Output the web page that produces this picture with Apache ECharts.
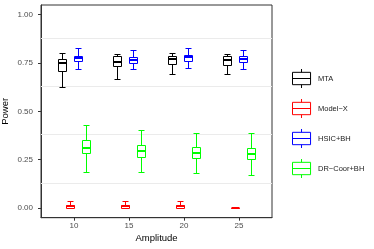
<!DOCTYPE html>
<html>
<head>
<meta charset="utf-8">
<script src="https://cdn.jsdelivr.net/npm/echarts@6/dist/echarts.min.js"></script>
<style>html,body{margin:0;padding:0;background:#fff;}#c{width:374px;height:249px;}</style>
</head>
<body>
<div id="c"></div>
<script>
// ---- data ----
const categories = ['10', '15', '20', '25'];
const groups = ['MTA', 'Model\u2212X', 'HSIC+BH', 'DR\u2212Coor+BH'];
const colors = ['#000000', '#ff0000', '#0000ff', '#00ff00'];
// each row: [min, q1, median, q3, max] per amplitude
const mta    = [[0.625,0.707,0.748,0.771,0.800],[0.665,0.735,0.757,0.788,0.797],[0.694,0.745,0.771,0.785,0.800],[0.692,0.742,0.768,0.785,0.797]];
const modelX = [[0.000,0.000,0.008,0.017,0.034],[0.000,0.000,0.008,0.017,0.034],[0.000,0.000,0.008,0.017,0.034],[0.000,0.000,0.000,0.000,0.000]];
const hsic   = [[0.721,0.758,0.775,0.788,0.827],[0.719,0.751,0.768,0.783,0.819],[0.723,0.762,0.779,0.792,0.828],[0.720,0.754,0.771,0.788,0.818]];
const drCoor = [[0.185,0.284,0.310,0.350,0.430],[0.188,0.264,0.296,0.325,0.403],[0.181,0.257,0.286,0.314,0.387],[0.171,0.252,0.281,0.312,0.387]];
const yTicks = [0, 0.25, 0.5, 0.75, 1];
const minorGrid = [0.125, 0.375, 0.625, 0.875];
const seriesData = [mta, modelX, hsic, drCoor];

const FONT = 'Liberation Sans, Arial, sans-serif';
const DODGE = 0.15, BOXW = 0.15, CAPW = 0.125;

function px(v) { return Math.round(v) + 0.5; }

function makeRender(g, color) {
  return function (params, api) {
    const x = api.value(0) + (g - 1.5) * DODGE;
    const c = (v) => api.coord([x, v]);
    const pMin = c(api.value(1)), pQ1 = c(api.value(2)), pMed = c(api.value(3)), pQ3 = c(api.value(4)), pMax = c(api.value(5));
    const hb = Math.round(api.size([BOXW, 0])[0] / 2);
    const hc = Math.round(api.size([CAPW, 0])[0] / 2);
    const cx = px(pMed[0]);
    const ls = { stroke: color, lineWidth: 1, fill: null };
    const yMin = px(pMin[1]), yMax = px(pMax[1]), yQ1 = px(pQ1[1]), yQ3 = px(pQ3[1]);
    const yMed = Math.round(pMed[1]);
    return {
      type: 'group',
      children: [
        { type: 'line', shape: { x1: cx, y1: yMax, x2: cx, y2: yQ3 }, style: ls },
        { type: 'line', shape: { x1: cx, y1: yQ1, x2: cx, y2: yMin }, style: ls },
        { type: 'line', shape: { x1: cx - hc, y1: yMax, x2: cx + hc, y2: yMax }, style: ls },
        { type: 'line', shape: { x1: cx - hc, y1: yMin, x2: cx + hc, y2: yMin }, style: ls },
        { type: 'rect', shape: { x: cx - hb, y: yQ3, width: 2 * hb, height: yQ1 - yQ3 }, style: { fill: '#fff', stroke: color, lineWidth: 1 } },
        { type: 'line', shape: { x1: cx - hb, y1: yMed, x2: cx + hb, y2: yMed }, style: { stroke: color, lineWidth: 2 } }
      ]
    };
  };
}

const legendIcon = 'path://M10,0L10,3.5M0.5,3.5L19.5,3.5L19.5,16.5L0.5,16.5ZM0.5,10L19.5,10M10,16.5L10,20';

const series = groups.map((name, g) => {
  const s = {
    name: name,
    type: 'custom',
    renderItem: makeRender(g, colors[g]),
    itemStyle: { color: colors[g] },
    emphasis: { disabled: true },
    encode: { x: 0, y: [1, 2, 3, 4, 5] },
    data: categories.map((cat, i) => [i + 1].concat(seriesData[g][i])),
    z: 3
  };
  if (g === 0) {
    s.markLine = {
      silent: true,
      symbol: ['none', 'none'],
      label: { show: false },
      lineStyle: { color: '#ebebeb', type: 'solid', width: 1 },
      emphasis: { disabled: true },
      data: minorGrid.map(v => ({ yAxis: v })),
      z: 1
    };
  }
  return s;
});

const chart = echarts.init(document.getElementById('c'), null, { renderer: 'canvas' });
chart.setOption({
  animation: false,
  backgroundColor: '#ffffff',
  textStyle: { fontFamily: FONT },
  tooltip: { show: false },
  grid: { left: 41, right: 102, top: 5, bottom: 31.3, containLabel: false, outerBoundsMode: 'none', show: true, borderColor: '#333333', borderWidth: 1, backgroundColor: '#ffffff' },
  legend: {
    orient: 'vertical',
    left: 290,
    top: 66.5,
    padding: 0,
    itemWidth: 19,
    itemHeight: 19,
    itemGap: 6,
    selectedMode: false,
    textStyle: { fontSize: 7.5, color: '#1a1a1a', fontFamily: FONT, padding: [0, 0, 0, 2] },
    data: groups.map((n, g) => ({ name: n, icon: legendIcon, itemStyle: { color: 'none', borderColor: colors[g], borderWidth: 1 } }))
  },
  xAxis: {
    type: 'value',
    min: 0.4,
    max: 4.6,
    name: 'Amplitude',
    nameLocation: 'middle',
    nameGap: 15.5,
    nameMoveOverlap: false,
    nameTextStyle: { fontSize: 9.5, color: '#000', fontFamily: FONT },
    axisLine: { show: true, onZero: false, lineStyle: { color: '#333333', width: 1 } },
    axisTick: { show: true, length: 3, customValues: [1, 2, 3, 4], lineStyle: { color: '#333333' } },
    axisLabel: { customValues: [1, 2, 3, 4], formatter: v => categories[Math.round(v) - 1], fontSize: 8, color: '#4d4d4d', margin: 4.5, fontFamily: FONT },
    splitLine: { show: false }
  },
  yAxis: {
    type: 'value',
    min: -0.05,
    max: 1.05,
    name: 'Power',
    nameLocation: 'middle',
    nameGap: 31,
    nameMoveOverlap: false,
    nameTextStyle: { fontSize: 9.5, color: '#000', fontFamily: FONT },
    axisLine: { show: true, onZero: false, lineStyle: { color: '#333333', width: 1 } },
    axisTick: { show: true, length: 3, customValues: yTicks, lineStyle: { color: '#333333' } },
    axisLabel: { customValues: yTicks, formatter: v => v.toFixed(2), fontSize: 8, color: '#4d4d4d', margin: 8, fontFamily: FONT },
    splitLine: { show: false }
  },
  series: series
});
</script>
</body>
</html>
